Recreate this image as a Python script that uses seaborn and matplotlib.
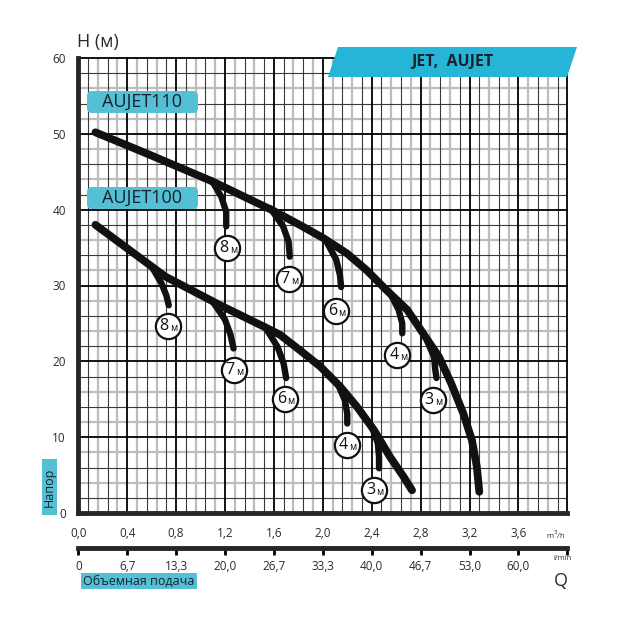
import numpy as np
import pandas as pd
import matplotlib
matplotlib.use("Agg")
import matplotlib.pyplot as plt
from matplotlib.patches import FancyBboxPatch, Polygon
import seaborn as sns

# ---------------- data ----------------
# AUJET110 main curve (Q m3/h, H m)
q110 = [0.14, 0.56, 1.10, 1.59, 1.81, 2.01, 2.20, 2.36, 2.52, 2.69, 2.82, 2.95, 3.05, 3.15, 3.22, 3.26, 3.28]
h110 = [50.2, 47.4, 43.7, 39.9, 38.0, 36.2, 34.2, 32.0, 29.4, 26.8, 23.7, 20.6, 17.1, 13.1, 9.6, 6.1, 2.8]
# AUJET100 main curve
q100 = [0.14, 0.71, 1.16, 1.54, 1.65, 1.81, 1.98, 2.14, 2.28, 2.42, 2.55, 2.66, 2.73]
h100 = [38.0, 31.2, 27.4, 24.4, 23.5, 21.5, 19.3, 16.7, 14.0, 10.9, 7.4, 4.8, 3.0]

# suction-depth branches (read points each)
branch_q110 = {
    "8": [1.09, 1.17, 1.21, 1.21],
    "7": [1.57, 1.675, 1.72, 1.73],
    "6": [2.03, 2.11, 2.14, 2.15],
    "4": [2.55, 2.62, 2.65, 2.65],
    "3": [2.85, 2.91, 2.92, 2.93],
}
branch_h110 = {
    "8": [43.9, 41.7, 39.7, 37.8],
    "7": [40.2, 37.8, 35.8, 33.8],
    "6": [35.8, 33.4, 31.4, 29.8],
    "4": [29.0, 26.8, 25.0, 23.7],
    "3": [22.8, 20.6, 18.9, 17.8],
}
branch_q100 = {
    "8": [0.60, 0.68, 0.72, 0.74],
    "7": [1.09, 1.20, 1.245, 1.27],
    "6": [1.525, 1.63, 1.68, 1.70],
    "4": [2.12, 2.18, 2.20, 2.20],
    "3": [2.40, 2.45, 2.46, 2.46],
}
branch_h100 = {
    "8": [32.5, 30.3, 28.7, 27.4],
    "7": [28.1, 25.5, 23.5, 21.7],
    "6": [24.6, 21.9, 19.7, 17.8],
    "4": [17.1, 14.9, 13.1, 11.8],
    "3": [11.4, 9.2, 7.4, 5.9],
}
# depth label circles
label_depth = ["8", "7", "6", "4", "3", "8", "7", "6", "4", "3"]
label_q = [1.22, 1.72, 2.11, 2.61, 2.90, 0.73, 1.27, 1.69, 2.20, 2.42]
label_h = [34.9, 30.8, 26.7, 20.8, 14.9, 24.6, 18.8, 15.0, 9.0, 3.0]

# axis ticks
q_ticks = [0.0, 0.4, 0.8, 1.2, 1.6, 2.0, 2.4, 2.8, 3.2, 3.6, 4.0]
q_labels = ["0,0", "0,4", "0,8", "1,2", "1,6", "2,0", "2,4", "2,8", "3,2", "3,6", ""]
lmin_labels = ["0", "6,7", "13,3", "20,0", "26,7", "33,3", "40,0", "46,7", "53,0", "60,0", ""]
h_ticks = [0, 10, 20, 30, 40, 50, 60]

# ---------------- build frames ----------------
main_df = pd.concat([
    pd.DataFrame({"Q": q110, "H": h110, "seg": "AUJET110"}),
    pd.DataFrame({"Q": q100, "H": h100, "seg": "AUJET100"}),
])
br = []
for k in branch_q110:
    br.append(pd.DataFrame({"Q": branch_q110[k], "H": branch_h110[k], "seg": "110_" + k}))
for k in branch_q100:
    br.append(pd.DataFrame({"Q": branch_q100[k], "H": branch_h100[k], "seg": "100_" + k}))
branch_df = pd.concat(br)

# ---------------- figure ----------------
sns.set_style("white")
plt.rcParams["font.family"] = ["Open Sans", "DejaVu Sans"]
TXT = "#2b2b2b"
TEAL = "#55bfd6"
BANNER = "#26b5d6"

W = H = 640
fig = plt.figure(figsize=(6.4, 6.4), dpi=100)
x0p, x1p, y0p, y1p = 78.3, 567.3, 513, 58
ax = fig.add_axes([x0p / W, 1 - y0p / H, (x1p - x0p) / W, (y0p - y1p) / H])
ax.set_xlim(0, 4.0)
ax.set_ylim(0, 60)

# grid: minor every 0.08 / 2 m, every second minor line grey
for k in range(1, 50):
    if k % 5 == 0:
        continue
    v = k * 0.08
    if k % 2 == 0:
        ax.axvline(v, color="#bdbdbd", lw=1.6, zorder=1)
    else:
        ax.axvline(v, color="#3a3a3a", lw=0.8, zorder=1.2)
for v in range(2, 60, 2):
    if v % 10 == 0:
        continue
    if v % 4 == 0:
        ax.axhline(v, color="#bdbdbd", lw=1.6, zorder=1)
    else:
        ax.axhline(v, color="#3a3a3a", lw=0.8, zorder=1.2)
for v in q_ticks[1:]:
    ax.axvline(v, color="black", lw=1.3, zorder=1.5, clip_on=False)
for v in h_ticks[1:]:
    ax.axhline(v, color="black", lw=1.3, zorder=1.5, clip_on=False)

# curves
sns.lineplot(data=branch_df, x="Q", y="H", units="seg", estimator=None, sort=False,
             color="#111111", lw=4.6, ax=ax, legend=False, zorder=4,
             solid_capstyle="round", solid_joinstyle="round")
sns.lineplot(data=main_df, x="Q", y="H", units="seg", estimator=None, sort=False,
             color="#111111", lw=5.6, ax=ax, legend=False, zorder=5,
             solid_capstyle="round", solid_joinstyle="round")

# depth labels
ax.scatter(label_q, label_h, s=330, facecolor="white", edgecolor="#111111",
           linewidth=1.6, zorder=6)
for d, q, h in zip(label_depth, label_q, label_h):
    ax.annotate(d, (q, h), xytext=(-2.6, 0), textcoords="offset points",
                ha="center", va="center", fontsize=11.5, color="#111111", zorder=7)
    ax.annotate("м", (q, h), xytext=(4.2, -1.8), textcoords="offset points",
                ha="center", va="center", fontsize=7, color="#111111", zorder=7)

# spines and ticks
for s in ["top", "right"]:
    ax.spines[s].set_visible(False)
ax.spines["left"].set_linewidth(3.5)
ax.spines["bottom"].set_linewidth(3.5)
ax.spines["left"].set_zorder(8)
ax.spines["bottom"].set_zorder(8)
ax.set_xticks(q_ticks, labels=q_labels)
ax.set_yticks(h_ticks, labels=[str(t) for t in h_ticks])
ax.tick_params(axis="both", direction="out", length=6, width=2.5, color="black",
               labelsize=8.5, labelcolor=TXT, pad=3)
ax.tick_params(axis="x", pad=4)
ax.set_xlabel("")
ax.set_ylabel("")

# secondary l/min axis
sec = ax.secondary_xaxis(-(548 - 513) / (513 - 58))
sec.set_xticks(q_ticks, labels=lmin_labels)
sec.spines["bottom"].set_linewidth(3.5)
sec.tick_params(axis="x", direction="out", length=5, width=2, color="black",
                labelsize=8.5, labelcolor=TXT, pad=4)

# units
fig.text(556 / W, 1 - 535 / H, "m$^3$/h", fontsize=5.5, color=TXT, ha="center", va="center")
fig.text(563 / W, 1 - 558 / H, "l/min", fontsize=5.5, color=TXT, ha="center", va="center")
fig.text(77 / W, 1 - 42 / H, "H (м)", fontsize=13, color=TXT, ha="left", va="center")
fig.text(561 / W, 1 - 581 / H, "Q", fontsize=13, color=TXT, ha="center", va="center")

# teal label boxes
def box(xa, ya, xb, yb, text, fs, rot=0, rs=0.008):
    p = FancyBboxPatch((xa / W, 1 - yb / H), (xb - xa) / W, (yb - ya) / H,
                       boxstyle=f"round,pad=0,rounding_size={rs}",
                       transform=fig.transFigure, facecolor=TEAL, edgecolor="none",
                       zorder=9)
    fig.add_artist(p)
    fig.text((xa + xb) / 2 / W, 1 - (ya + yb) / 2 / H, text, fontsize=fs, color="#16232c",
             ha="center", va="center", rotation=rot, zorder=10)

box(87, 91, 198, 113, "AUJET110", 13)
box(87, 187, 198, 209, "AUJET100", 13)
box(42, 459, 57, 515, "Напор", 9, rot=90, rs=0.0)
box(81, 573, 197, 589, "Объемная подача", 9, rs=0.0)

# banner
poly = Polygon([(338 / W, 1 - 47 / H), (577 / W, 1 - 47 / H), (567 / W, 1 - 77 / H),
                (328 / W, 1 - 77 / H)], closed=True, transform=fig.transFigure,
               facecolor=BANNER, edgecolor="none", zorder=9)
fig.add_artist(poly)
fig.text(452 / W, 1 - 62 / H, "JET,  AUJET", fontsize=11.5, fontweight="bold",
         color="#16232c", ha="center", va="center", zorder=10)

fig.savefig("out.png", dpi=100, facecolor="white")
